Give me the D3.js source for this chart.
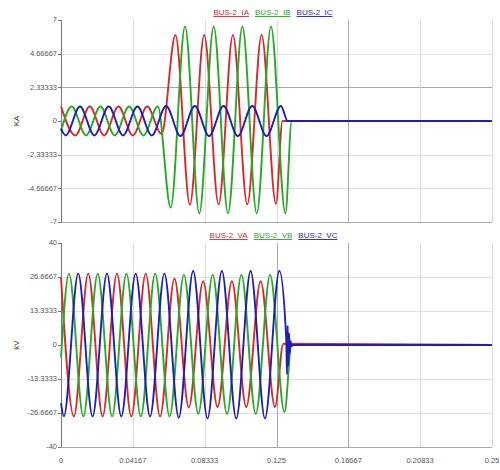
<!DOCTYPE html>
<html>
<head>
<meta charset="utf-8">
<script src="https://cdn.jsdelivr.net/npm/d3@7"></script>
<style>
  body { margin: 0; background: #fff; }
  svg { font-family: "Liberation Sans", Arial, sans-serif; }
</style>
</head>
<body>
<svg id="chart" width="500" height="470"></svg>
<script>
// Tick values and labels
const timeTicks = [0, 0.04167, 0.08333, 0.125, 0.16667, 0.20833, 0.25];
const timeLabels = ["0", "0.04167", "0.08333", "0.125", "0.16667", "0.20833", "0.25"];
const currentTicks = [7, 4.66667, 2.33333, 0, -2.33333, -4.66667, -7];
const currentLabels = ["7", "4.66667", "2.33333", "0", "-2.33333", "-4.66667", "-7"];
const voltageTicks = [40, 26.6667, 13.3333, 0, -13.3333, -26.6667, -40];
const voltageLabels = ["40", "26.6667", "13.3333", "0", "-13.3333", "-26.6667", "-40"];

const currentNames = ["BUS-2_IA", "BUS-2_IB", "BUS-2_IC"];
const voltageNames = ["BUS-2_VA", "BUS-2_VB", "BUS-2_VC"];

// Waveform points: [time s, value] at peaks, troughs and ends
const ia = [[0, 1.0], [0.00833, -1.0], [0.01667, 1.0], [0.025, -1.0], [0.03333, 1.0], [0.04167, -1.0],
  [0.05, 1.0], [0.05833, -0.9], [0.06641, 5.96], [0.07477, -5.8], [0.08306, 5.96], [0.09142, -5.78],
  [0.09971, 5.96], [0.10806, -5.78], [0.11636, 5.96], [0.12471, -5.75], [0.12848, 0], [0.25, 0]];
const ib = [[0, -0.69], [0.00621, 1.0], [0.01453, -1.0], [0.02285, 1.0], [0.03118, -1.0], [0.0395, 1.0],
  [0.04782, -1.0], [0.05615, 1.0], [0.06363, -6.0], [0.07193, 6.55], [0.08022, -6.4], [0.08857, 6.55],
  [0.09687, -6.4], [0.10522, 6.55], [0.11352, -6.4], [0.12181, 6.55], [0.13016, -6.4], [0.13382, 0], [0.25, 0]];
const ic = [[0, -0.53], [0.0027, -1.0], [0.01102, 1.0], [0.01935, -1.0], [0.02767, 1.0], [0.03599, -1.0],
  [0.04432, 1.0], [0.05264, -1.0], [0.06096, 1.04], [0.06929, -1.04], [0.07761, 1.04], [0.08593, -1.04],
  [0.09426, 1.04], [0.10258, -1.04], [0.1109, 1.04], [0.11923, -1.04], [0.12755, 1.04], [0.1315, 0], [0.25, 0]];

const va = [[0, 26.5], [0.00746, -28], [0.0158, 28], [0.02413, -28], [0.03246, 28], [0.0408, -28],
  [0.04913, 28], [0.05746, -28], [0.0658, 26], [0.07413, -24.5], [0.08246, 25], [0.0908, -24.3],
  [0.09913, 25], [0.10746, -24.3], [0.1158, 25], [0.12413, -24.3], [0.12895, 0.5], [0.25, 0]];
const vb = [[0, -4.9], [0.00464, 28], [0.01297, -28], [0.0213, 28], [0.02964, -28], [0.03797, 28],
  [0.0463, -28], [0.05464, 28], [0.06297, -28], [0.0713, 27.5], [0.07964, -27], [0.08797, 27.5],
  [0.0963, -27], [0.10464, 27.5], [0.11297, -27], [0.1213, 27.5], [0.12964, -26.3], [0.1337, 0], [0.25, 0]];
const vc = [[0, -22.8], [0.00165, -28], [0.00998, 28], [0.01831, -28], [0.02665, 28], [0.03498, -28],
  [0.04331, 28], [0.05165, -28], [0.05998, 28], [0.06831, -28.5], [0.07665, 29], [0.08498, -28.8],
  [0.09331, 29], [0.10165, -28.8], [0.10998, 29], [0.11831, -28.8], [0.12665, 29], [0.13068, 2],
  [0.13109, -11.5], [0.1315, 7.5], [0.1319, -8], [0.13231, 4.5], [0.13271, -3], [0.13318, 1.5],
  [0.1337, -0.5], [0.13457, 0], [0.25, 0]];

const phaseColors = ["#d42b2b", "#27a827", "#1f1fb0"];

const svg = d3.select("#chart");
const x = d3.scaleLinear().domain([0, 0.25]).range([61, 492]);

function drawPanel(cfg) {
    const y = d3.scaleLinear().domain([cfg.ticks[cfg.ticks.length - 1], cfg.ticks[0]]).range([cfg.bottom, cfg.top]);
    const g = svg.append("g");

    // horizontal grid (last one is the bottom border)
    g.selectAll(".hgrid")
        .data(cfg.ticks.slice(1))
        .join("line")
        .attr("x1", x(0)).attr("x2", x(0.25))
        .attr("y1", d => Math.round(y(d)) + 0.5).attr("y2", d => Math.round(y(d)) + 0.5)
        .attr("stroke", (d, i) => i === cfg.ticks.length - 2 ? "#a8a8a8" : (cfg.darkH.includes(d) ? "#a8a8a8" : "#e0e0e0"))
        .attr("stroke-width", 1);

    // vertical grid
    g.selectAll(".vgrid")
        .data(timeTicks.slice(1))
        .join("line")
        .attr("x1", d => Math.round(x(d)) + 0.5).attr("x2", d => Math.round(x(d)) + 0.5)
        .attr("y1", cfg.top).attr("y2", cfg.bottom)
        .attr("stroke", d => cfg.darkV.includes(d) ? "#a8a8a8" : "#dadada")
        .attr("stroke-width", 1);

    // left axis with small ticks
    g.append("line")
        .attr("x1", x(0) + 0.5).attr("x2", x(0) + 0.5)
        .attr("y1", cfg.top).attr("y2", cfg.bottom)
        .attr("stroke", "#777");
    g.selectAll(".ytick")
        .data(cfg.ticks)
        .join("line")
        .attr("x1", x(0) - 3).attr("x2", x(0))
        .attr("y1", d => Math.round(y(d)) + 0.5).attr("y2", d => Math.round(y(d)) + 0.5)
        .attr("stroke", "#777");
    g.selectAll(".ylabel")
        .data(cfg.ticks)
        .join("text")
        .attr("x", x(0) - 4)
        .attr("y", d => y(d))
        .attr("dy", "0.32em")
        .attr("text-anchor", "end")
        .attr("font-size", "7.5px")
        .attr("fill", "#555")
        .text((d, i) => cfg.labels[i]);

    // axis title
    g.append("text")
        .attr("transform", `translate(19,${(cfg.top + cfg.bottom) / 2}) rotate(-90)`)
        .attr("text-anchor", "middle")
        .attr("font-size", "8px")
        .attr("fill", "#333")
        .text(cfg.title);

    // waveforms
    const line = d3.line()
        .x(d => x(d[0]))
        .y(d => y(d[1]))
        .curve(d3.curveMonotoneX);
    g.selectAll(".wave")
        .data(cfg.series)
        .join("path")
        .attr("fill", "none")
        .attr("stroke", (d, i) => phaseColors[i])
        .attr("stroke-width", 1.9)
        .attr("stroke-linejoin", "round")
        .attr("d", line);

    // legend: underlined names, centred over the plot
    const leg = g.append("g");
    const items = leg.selectAll("text")
        .data(cfg.names)
        .join("text")
        .attr("y", cfg.legendY)
        .attr("font-size", "8px")
        .attr("fill", (d, i) => phaseColors[i])
        .text(d => d);
    let cx = 0;
    const gap = 6;
    items.each(function(d, i) {
        const w = this.getComputedTextLength();
        d3.select(this).attr("x", cx);
        leg.append("line")
            .attr("x1", cx).attr("x2", cx + w)
            .attr("y1", cfg.legendY + 1.5).attr("y2", cfg.legendY + 1.5)
            .attr("stroke", phaseColors[i])
            .attr("stroke-width", 0.9);
        cx += w + gap;
    });
    leg.attr("transform", `translate(${cfg.legendCenter - (cx - gap) / 2},0)`);

    // time labels only under the lower panel
    if (cfg.showTime) {
        g.selectAll(".xlabel")
            .data(timeTicks)
            .join("text")
            .attr("x", d => x(d))
            .attr("y", cfg.bottom + 16)
            .attr("text-anchor", "middle")
            .attr("font-size", "7.5px")
            .attr("fill", "#555")
            .text((d, i) => timeLabels[i]);
    }
}

drawPanel({
    top: 20, bottom: 222,
    ticks: currentTicks, labels: currentLabels,
    title: "KA", names: currentNames, series: [ia, ib, ic],
    legendY: 15, legendCenter: 273,
    darkH: [2.33333], darkV: [0.16667],
    showTime: false
});

drawPanel({
    top: 243, bottom: 447,
    ticks: voltageTicks, labels: voltageLabels,
    title: "kV", names: voltageNames, series: [va, vb, vc],
    legendY: 238, legendCenter: 273.5,
    darkH: [], darkV: [0.125, 0.16667],
    showTime: true
});
</script>
</body>
</html>
